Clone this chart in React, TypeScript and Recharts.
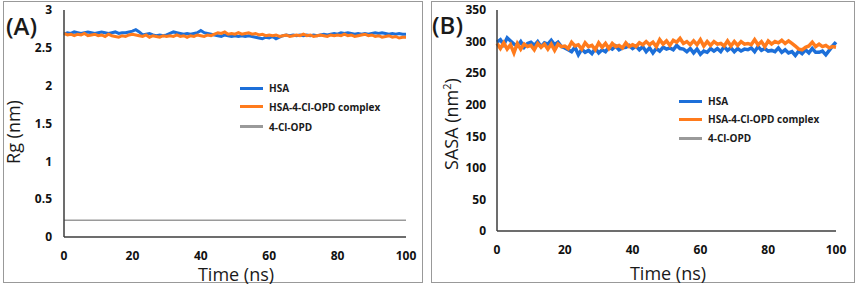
import { LineChart, Line, XAxis, YAxis } from 'recharts';

// simulation time (ns)
const time = [
  0, 1, 2, 3, 4, 5, 6, 7, 8, 9, 10, 11, 12, 13, 14, 15, 16, 17, 18, 19, 20,
  21, 22, 23, 24, 25, 26, 27, 28, 29, 30, 31, 32, 33, 34, 35, 36, 37, 38, 39, 40,
  41, 42, 43, 44, 45, 46, 47, 48, 49, 50, 51, 52, 53, 54, 55, 56, 57, 58, 59, 60,
  61, 62, 63, 64, 65, 66, 67, 68, 69, 70, 71, 72, 73, 74, 75, 76, 77, 78, 79, 80,
  81, 82, 83, 84, 85, 86, 87, 88, 89, 90, 91, 92, 93, 94, 95, 96, 97, 98, 99, 100,
];

// (A) radius of gyration, nm
const rgHsa = [
  2.68, 2.7, 2.69, 2.71, 2.7, 2.69, 2.7, 2.71, 2.7, 2.69, 2.7,
  2.71, 2.7, 2.69, 2.7, 2.71, 2.69, 2.7, 2.7, 2.71, 2.72,
  2.74, 2.71, 2.67, 2.68, 2.69, 2.67, 2.66, 2.67, 2.66, 2.67,
  2.69, 2.71, 2.7, 2.69, 2.68, 2.69, 2.68, 2.69, 2.7, 2.73,
  2.7, 2.69, 2.68, 2.67, 2.66, 2.65, 2.67, 2.66, 2.65, 2.66,
  2.65, 2.66, 2.65, 2.66, 2.65, 2.64, 2.63, 2.62, 2.64, 2.63,
  2.65, 2.62, 2.64, 2.66, 2.67, 2.66, 2.67, 2.66, 2.67, 2.66,
  2.67, 2.66, 2.67, 2.66, 2.67, 2.68, 2.67, 2.68, 2.69, 2.68,
  2.7, 2.69, 2.7, 2.69, 2.68, 2.69, 2.68, 2.69, 2.68, 2.69,
  2.7, 2.69, 2.7, 2.69, 2.68, 2.69, 2.68, 2.69, 2.68, 2.68,
];
const rgComplex = [
  2.69, 2.67, 2.68, 2.66, 2.68, 2.67, 2.69, 2.66, 2.67, 2.68, 2.66,
  2.67, 2.65, 2.68, 2.66, 2.65, 2.64, 2.66, 2.65, 2.67, 2.68,
  2.67, 2.66, 2.65, 2.67, 2.64, 2.66, 2.65, 2.64, 2.66, 2.65,
  2.66, 2.65, 2.67, 2.65, 2.66, 2.64, 2.66, 2.65, 2.67, 2.66,
  2.65, 2.67, 2.66, 2.68, 2.7, 2.69, 2.71, 2.68, 2.69, 2.68,
  2.7, 2.68, 2.69, 2.7, 2.68, 2.69, 2.67, 2.68, 2.66, 2.67,
  2.66, 2.67, 2.65, 2.66, 2.67, 2.65, 2.66, 2.67, 2.66, 2.68,
  2.66, 2.67, 2.65, 2.66, 2.67, 2.66, 2.65, 2.67, 2.66, 2.67,
  2.66, 2.68, 2.66, 2.67, 2.65, 2.66, 2.67, 2.68, 2.66, 2.67,
  2.65, 2.66, 2.64, 2.65, 2.66, 2.64, 2.65, 2.63, 2.64, 2.64,
];
const opdTime = [0, 10, 20, 30, 40, 50, 60, 70, 80, 90, 100];
const rgOpd = [0.22, 0.22, 0.22, 0.22, 0.22, 0.22, 0.22, 0.22, 0.22, 0.22, 0.22];

// (B) solvent accessible surface area, nm^2
const sasaHsa = [
  299, 303, 295, 306, 301, 296, 293, 300, 291, 297, 299,
  294, 300, 292, 298, 296, 302, 295, 299, 292, 290,
  287, 284, 291, 279, 288, 283, 286, 281, 289, 282,
  287, 284, 291, 288, 293, 287, 290, 291, 294, 289,
  293, 287, 292, 284, 290, 282, 289, 285, 291, 288,
  290, 287, 294, 289, 288, 284, 289, 282, 288, 280,
  285, 283, 289, 285, 289, 284, 292, 286, 290, 284,
  289, 285, 288, 287, 290, 284, 292, 286, 289, 285,
  286, 284, 290, 283, 287, 282, 284, 278, 285, 281,
  287, 282, 289, 283, 283, 285, 279, 286, 293, 299,
];
const sasaComplex = [
  297, 289, 298, 288, 295, 282, 297, 288, 296, 292, 294,
  287, 297, 291, 296, 288, 296, 286, 296, 292, 293,
  289, 299, 293, 295, 288, 298, 292, 294, 287, 298,
  291, 297, 289, 297, 292, 294, 290, 298, 292, 295,
  292, 298, 295, 300, 295, 299, 292, 303, 296, 301,
  294, 302, 299, 305, 297, 300, 295, 301, 295, 303,
  293, 300, 294, 300, 296, 297, 293, 301, 293, 300,
  294, 300, 296, 297, 295, 303, 295, 300, 292, 301,
  296, 300, 298, 302, 297, 301, 297, 293, 288, 287,
  291, 293, 299, 292, 296, 292, 294, 290, 292, 291,
];

const xTicks = [0, 20, 40, 60, 80, 100];
const rgTicks = [0, 0.5, 1, 1.5, 2, 2.5, 3];
const sasaTicks = [0, 50, 100, 150, 200, 250, 300, 350];
const seriesNames = ['HSA', 'HSA-4-Cl-OPD complex', '4-Cl-OPD'];

const BLUE = '#1c6fd9';
const ORANGE = '#ff7b1c';
const GRAY = '#9a9a9a';
const colors = [BLUE, ORANGE, GRAY];
const FONT = '"Open Sans", "DejaVu Sans", sans-serif';
const FRAME = '#3c3c3c';

const rgRows = time.map((t, i) => ({ t, hsa: rgHsa[i], complex: rgComplex[i] }));
const opdRows = opdTime.map((t, i) => ({ t, opd: rgOpd[i] }));
const sasaRows = time.map((t, i) => ({ t, hsa: sasaHsa[i], complex: sasaComplex[i] }));

const tickStyle = { fill: '#111', fontSize: 12, fontWeight: 700, fontFamily: FONT };

const abs = (extra: any) => ({ position: 'absolute' as const, fontFamily: FONT, color: '#1a1a1a', ...extra });

const LegendBox = ({ left, rows }: { left: number; rows: number[] }) => (
  <>
    {seriesNames.map((name, i) => (
      <div key={name}>
        <div style={abs({ left, top: rows[i] - 1.5, width: 23, height: 3, background: colors[i] })} />
        <div style={abs({ left: left + 29, top: rows[i] - 7, height: 14, lineHeight: '14px', fontSize: 10, fontWeight: 700, whiteSpace: 'nowrap' })}>
          {name}
        </div>
      </div>
    ))}
  </>
);

const YTitle = ({ cx, cy, children }: { cx: number; cy: number; children: any }) => (
  <div
    style={abs({
      left: cx - 100, top: cy - 10, width: 200, height: 20, lineHeight: '20px',
      textAlign: 'center', fontSize: 18, transform: 'rotate(-90deg)',
    })}
  >
    {children}
  </div>
);

const XTitle = ({ cx, cy }: { cx: number; cy: number }) => (
  <div style={abs({ left: cx - 60, top: cy - 7, width: 120, height: 14, lineHeight: '14px', textAlign: 'center', fontSize: 18 })}>
    Time (ns)
  </div>
);

const frameAxes = [
  <XAxis key="top" xAxisId="top" orientation="top" height={0} tick={false} tickLine={false} axisLine={{ stroke: FRAME, strokeWidth: 1.5 }} />,
  <YAxis key="right" yAxisId="right" orientation="right" width={0} tick={false} tickLine={false} axisLine={{ stroke: FRAME, strokeWidth: 1.5 }} />,
];

export default function App() {
  return (
    <div style={{ position: 'absolute', left: 0, top: 0, width: 858, height: 287, background: '#fff', overflow: 'hidden' }}>
      {/* panel frames */}
      <div style={abs({ left: 3, top: 1, width: 420, height: 282, border: '1px solid #999', boxSizing: 'border-box' })} />
      <div style={abs({ left: 431, top: 1, width: 424, height: 282, border: '1px solid #999', boxSizing: 'border-box' })} />

      <div style={abs({ left: 0, top: 0 })}>
        <LineChart width={425} height={287} data={rgRows} margin={{ top: 10, right: 19, bottom: 0, left: 0 }}>
          <XAxis
            dataKey="t" type="number" domain={[0, 100]} ticks={xTicks} height={50}
            tick={tickStyle} tickSize={0} tickMargin={14}
            axisLine={{ stroke: FRAME, strokeWidth: 1.5 }}
          />
          <YAxis
            type="number" domain={[0, 3]} ticks={rgTicks} width={64}
            tick={tickStyle} tickSize={0} tickMargin={12}
            axisLine={{ stroke: FRAME, strokeWidth: 1.5 }}
          />
          {frameAxes}
          <Line dataKey="hsa" stroke={BLUE} strokeWidth={3} dot={false} isAnimationActive={false} />
          <Line dataKey="complex" stroke={ORANGE} strokeWidth={3} dot={false} isAnimationActive={false} />
          <Line data={opdRows} dataKey="opd" stroke={GRAY} strokeWidth={1.5} dot={false} isAnimationActive={false} />
        </LineChart>
      </div>

      <div style={abs({ left: 428, top: 0 })}>
        <LineChart width={430} height={287} data={sasaRows} margin={{ top: 10, right: 22, bottom: 0, left: 0 }}>
          <XAxis
            dataKey="t" type="number" domain={[0, 100]} ticks={xTicks} height={56}
            tick={tickStyle} tickSize={0} tickMargin={14}
            axisLine={{ stroke: FRAME, strokeWidth: 1.5 }}
          />
          <YAxis
            type="number" domain={[0, 350]} ticks={sasaTicks} width={69}
            tick={tickStyle} tickSize={0} tickMargin={11}
            axisLine={{ stroke: FRAME, strokeWidth: 1.5 }}
          />
          {frameAxes}
          <Line dataKey="hsa" stroke={BLUE} strokeWidth={3.5} dot={false} isAnimationActive={false} />
          <Line dataKey="complex" stroke={ORANGE} strokeWidth={3.5} dot={false} isAnimationActive={false} />
        </LineChart>
      </div>

      <div style={abs({ left: 6, top: 11, lineHeight: '30px', fontSize: 24, fontWeight: 600 })}>(A)</div>
      <div style={abs({ left: 432, top: 10, lineHeight: '30px', fontSize: 24, fontWeight: 600 })}>(B)</div>

      <YTitle cx={13} cy={132}>Rg (nm)</YTitle>
      <YTitle cx={447} cy={124}>
        SASA (nm<sup style={{ fontSize: 11 }}>2</sup>)
      </YTitle>
      <XTitle cx={236} cy={274} />
      <XTitle cx={668} cy={273} />

      <LegendBox left={240} rows={[88, 106.5, 126.5]} />
      <LegendBox left={679} rows={[101, 119, 138]} />
    </div>
  );
}
